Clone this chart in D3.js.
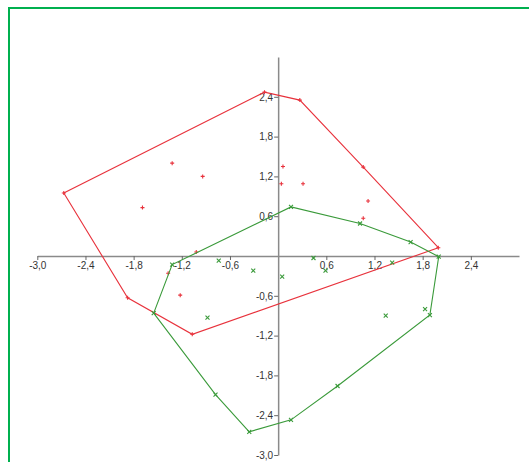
<!DOCTYPE html>
<html>
<head>
<meta charset="utf-8">
<script src="https://cdn.jsdelivr.net/npm/d3@7"></script>
<style>
  body { margin: 0; background: #fff; }
  svg { display: block; }
</style>
</head>
<body>
<svg id="chart" width="529" height="462"></svg>
<script>
// red group (+)
const redX = [-0.17, 0.27, 1.06, 1.995, -1.07, -1.875, -2.67, 0.06, 0.04, 0.31, 1.12, 1.06, -1.32, -0.94, -1.69, -1.02, -1.37, -1.22]
const redY = [2.47, 2.35, 1.34, 0.125, -1.18, -0.63, 0.95, 1.35, 1.09, 1.09, 0.83, 0.57, 1.40, 1.20, 0.73, 0.06, -0.26, -0.59]
// green group (x)
const greenX = [0.16, 1.02, 1.65, 2.0, 1.89, 0.74, 0.16, -0.36, -0.78, -1.55, -1.32, 0.44, 0.59, 0.05, 1.42, -0.74, -0.31, -0.88, 1.83, 1.34]
const greenY = [0.74, 0.49, 0.21, -0.01, -0.89, -1.96, -2.47, -2.65, -2.09, -0.86, -0.13, -0.03, -0.22, -0.31, -0.10, -0.07, -0.22, -0.93, -0.80, -0.90]
const tickVals = [-3.0, -2.4, -1.8, -1.2, -0.6, 0.6, 1.2, 1.8, 2.4]

const red = "#e8323c", green = "#3a9a3a"

const svg = d3.select("#chart")

// green frame
svg.append("rect")
    .attr("x", 9).attr("y", 8).attr("width", 700).attr("height", 700)
    .attr("fill", "none").attr("stroke", "#00b04f").attr("stroke-width", 2)

const x = d3.scaleLinear().domain([-3, 3]).range([37.3, 519])
const y = d3.scaleLinear().domain([-3, 3]).range([455, 57])

const fmt = d => d3.format(".1f")(d).replace(".", ",").replace("−", "-")

// axes
const gx = svg.append("g").attr("transform", `translate(0,${y(0)})`)
    .call(d3.axisBottom(x).tickValues(tickVals).tickSize(4).tickSizeOuter(0).tickPadding(2).tickFormat(fmt))
const gy = svg.append("g").attr("transform", `translate(${x(0)},0)`)
    .call(d3.axisLeft(y).tickValues(tickVals).tickSize(4).tickSizeOuter(0).tickPadding(1).tickFormat(fmt))

;[gx, gy].forEach(g => {
    g.select(".domain").attr("stroke", "#8a8a8a").attr("stroke-width", 1.5)
    g.selectAll(".tick line").attr("stroke", "#666")
    g.selectAll(".tick text").attr("fill", "#333").attr("font-size", 10)
        .attr("font-family", "'Liberation Sans', Arial, sans-serif")
})

function drawGroup(xs, ys, color, shape) {
    const pts = xs.map((v, i) => [x(v), y(ys[i])])
    const hull = d3.polygonHull(pts)
    svg.append("path")
        .attr("d", "M" + hull.join("L") + "Z")
        .attr("fill", "none").attr("stroke", color).attr("stroke-width", 1.1)
    svg.selectAll(null).data(pts).enter().append("path")
        .attr("transform", d => `translate(${d[0]},${d[1]})`)
        .attr("d", shape)
        .attr("fill", "none").attr("stroke", color).attr("stroke-width", 1.1)
}

drawGroup(redX, redY, red, "M-2,0H2M0,-2V2")
drawGroup(greenX, greenY, green, "M-2,-2L2,2M-2,2L2,-2")
</script>
</body>
</html>
